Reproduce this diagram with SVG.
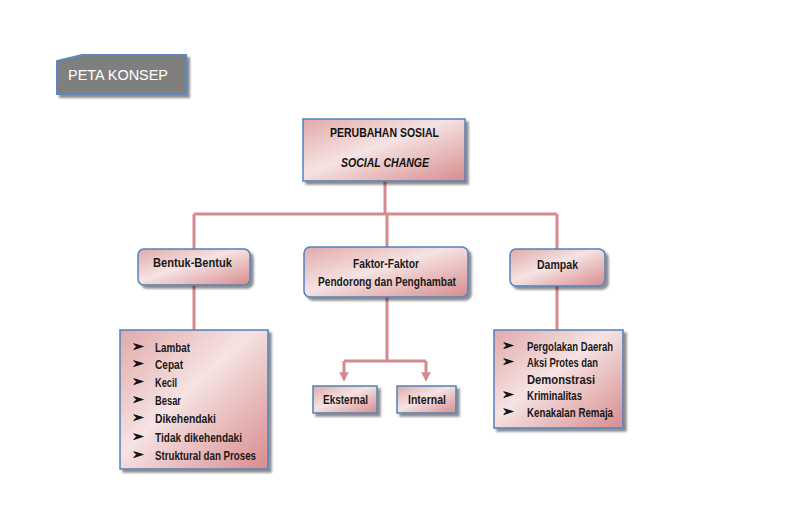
<svg xmlns="http://www.w3.org/2000/svg" width="787" height="517" viewBox="0 0 787 517">
<defs>
<linearGradient id="pk" x1="0" y1="0" x2="1" y2="1">
<stop offset="0" stop-color="#e1a9a9"/>
<stop offset="0.45" stop-color="#f6e3e3"/>
<stop offset="0.55" stop-color="#f0d2d2"/>
<stop offset="1" stop-color="#d88c8d"/>
</linearGradient>
<filter id="sh" x="-10%" y="-10%" width="130%" height="130%">
<feGaussianBlur in="SourceAlpha" stdDeviation="1.2"/>
<feOffset dx="3" dy="3" result="b"/>
<feComponentTransfer><feFuncA type="linear" slope="0.45"/></feComponentTransfer>
<feMerge><feMergeNode/><feMergeNode in="SourceGraphic"/></feMerge>
</filter>
<marker id="ah" viewBox="0 0 10 10" refX="5" refY="5" markerWidth="3.2" markerHeight="3.2" orient="auto">
<path d="M0,0 L10,5 L0,10 z" fill="#d58a8d"/>
</marker>
</defs>
<style>
.box{fill:url(#pk);stroke:#4f81bd;stroke-width:1.5;filter:url(#sh)}
.t{font-family:"Liberation Sans",Arial,sans-serif;font-size:13.5px;font-weight:bold;fill:#1a1a1a}
.h{font-family:"Liberation Sans",Arial,sans-serif;font-size:12px;font-weight:bold;fill:#111}
.bl{font-family:"DejaVu Sans",sans-serif;font-size:14px;fill:#111;stroke:#111;stroke-width:0.7}
.ln{fill:none;stroke:#d58a8d;stroke-width:3}
</style>
<rect width="787" height="517" fill="#ffffff"/>

<g id="peta-konsep">
<path d="M82,55 L186,55 L186,94 L57,94 L57,61 Z" fill="#7f7f7f" stroke="#5b87c0" stroke-width="2" filter="url(#sh)"/>
<text x="68" y="80" font-family="'Liberation Sans',Arial,sans-serif" font-size="14" fill="#ffffff" textLength="100" lengthAdjust="spacingAndGlyphs">PETA KONSEP</text>
</g>

<g id="connectors">
<path class="ln" d="M385,181 V214 M194,214 H557 M194,214 V249 M387,214 V248 M557,214 V249"/>
<path class="ln" d="M194,285 V330 M557,286 V330"/>
<path class="ln" d="M387,297 V361 M344,361 H426"/>
<path class="ln" d="M344,361 V377" marker-end="url(#ah)"/>
<path class="ln" d="M426,361 V377" marker-end="url(#ah)"/>
</g>

<g id="perubahan-sosial">
<rect class="box" x="303" y="119" width="162" height="62"/>
<text class="h" x="330" y="137" textLength="109" lengthAdjust="spacingAndGlyphs">PERUBAHAN SOSIAL</text>
<text class="h" x="341" y="167" font-style="italic" textLength="88" lengthAdjust="spacingAndGlyphs">SOCIAL CHANGE</text>
</g>

<g id="bentuk">
<rect class="box" x="138" y="249" width="112" height="36" rx="6"/>
<text class="t" x="153" y="267" textLength="79" lengthAdjust="spacingAndGlyphs">Bentuk-Bentuk</text>
</g>

<g id="faktor">
<rect class="box" x="304" y="247" width="164" height="50" rx="6"/>
<text class="t" x="353" y="268" textLength="66" lengthAdjust="spacingAndGlyphs">Faktor-Faktor</text>
<text class="t" x="318" y="286" textLength="138" lengthAdjust="spacingAndGlyphs">Pendorong dan Penghambat</text>
</g>

<g id="dampak">
<rect class="box" x="510" y="249" width="95" height="37" rx="6"/>
<text class="t" x="537" y="269" textLength="41" lengthAdjust="spacingAndGlyphs">Dampak</text>
</g>

<g id="bentuk-list">
<rect class="box" x="120" y="330" width="148" height="139"/>
<g class="bl">
<text x="132" y="351">➢</text><text x="132" y="368">➢</text><text x="132" y="386">➢</text><text x="132" y="404">➢</text><text x="132" y="422">➢</text><text x="132" y="441">➢</text><text x="132" y="459">➢</text>
</g>
<text class="t" x="155" y="352" textLength="35" lengthAdjust="spacingAndGlyphs">Lambat</text>
<text class="t" x="155" y="369" textLength="28" lengthAdjust="spacingAndGlyphs">Cepat</text>
<text class="t" x="155" y="387" textLength="22" lengthAdjust="spacingAndGlyphs">Kecil</text>
<text class="t" x="155" y="405" textLength="26" lengthAdjust="spacingAndGlyphs">Besar</text>
<text class="t" x="155" y="423" textLength="61" lengthAdjust="spacingAndGlyphs">Dikehendaki</text>
<text class="t" x="155" y="442" textLength="87" lengthAdjust="spacingAndGlyphs">Tidak dikehendaki</text>
<text class="t" x="155" y="460" textLength="101" lengthAdjust="spacingAndGlyphs">Struktural dan Proses</text>
</g>

<g id="eksternal">
<rect class="box" x="313" y="386" width="64" height="27"/>
<text class="t" x="323" y="404" textLength="45" lengthAdjust="spacingAndGlyphs">Eksternal</text>
</g>

<g id="internal">
<rect class="box" x="397" y="386" width="59" height="27"/>
<text class="t" x="408" y="404" textLength="38" lengthAdjust="spacingAndGlyphs">Internal</text>
</g>

<g id="dampak-list">
<rect class="box" x="494" y="330" width="129" height="98"/>
<g class="bl">
<text x="502" y="350">➢</text><text x="502" y="366">➢</text><text x="502" y="399">➢</text><text x="502" y="416">➢</text>
</g>
<text class="t" x="527" y="351" textLength="86" lengthAdjust="spacingAndGlyphs">Pergolakan Daerah</text>
<text class="t" x="527" y="367" textLength="71" lengthAdjust="spacingAndGlyphs">Aksi Protes dan</text>
<text class="t" x="527" y="384" textLength="68" lengthAdjust="spacingAndGlyphs">Demonstrasi</text>
<text class="t" x="527" y="400" textLength="55" lengthAdjust="spacingAndGlyphs">Kriminalitas</text>
<text class="t" x="527" y="417" textLength="86" lengthAdjust="spacingAndGlyphs">Kenakalan Remaja</text>
</g>
</svg>
